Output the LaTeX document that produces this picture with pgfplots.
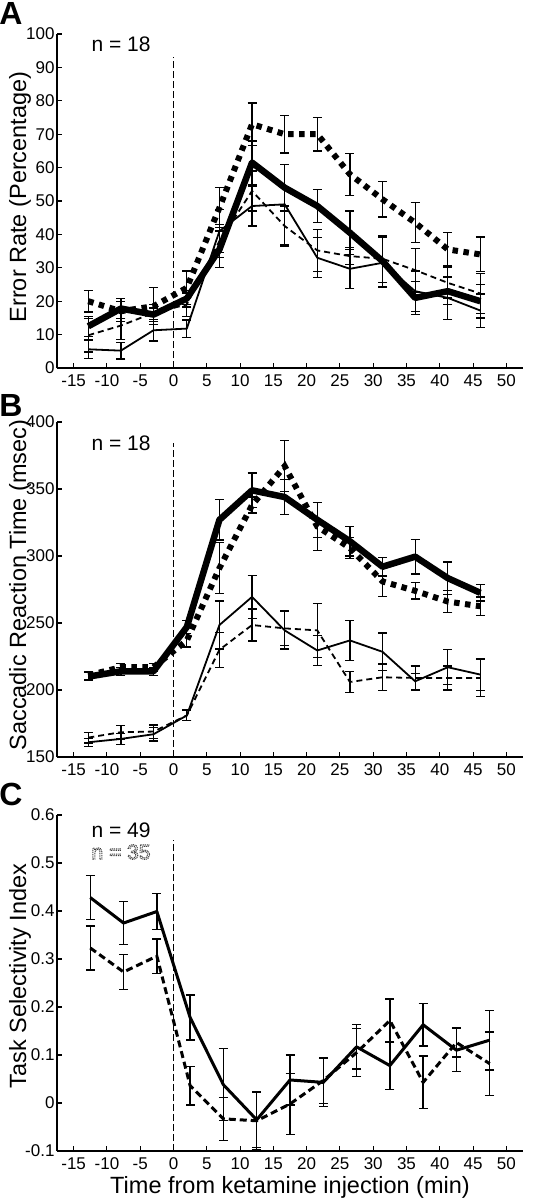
\documentclass[border=0pt]{standalone}
\usepackage{pgfplots}
\pgfplotsset{compat=1.18}
\usepackage{fontspec}
\setmainfont{Liberation Sans}

\pgfplotsset{
  panel/.style={
    scale only axis, width=466pt,
    xmin=-17.5, xmax=52.5,
    axis x line*=bottom, axis y line*=left,
    axis line style={-, line width=1.3pt},
    tick style={line width=1.1pt, black},
    major tick length=5pt, tick align=inside,
    xtick={-15,-10,...,50},
    ticklabel style={font=\fontsize{17}{19}\selectfont},
    /pgf/number format/assume math mode=true,
    yticklabel style={xshift=1pt},
    xticklabel style={yshift=-3pt},
    every axis plot/.append style={black},
    clip=false,
  },
  ebar/.style={error bars/.cd, y dir=both, y explicit,
    error bar style={line width=1.3pt, solid},
    error mark options={rotate=90, mark size=4.5pt, line width=1.3pt, solid}},
  thicksolid/.style={line width=6.5pt, line join=round},
  thickdot/.style={line width=6pt, dash pattern=on 5.5pt off 5.5pt},
  thinsolid/.style={line width=1.8pt},
  thindash/.style={line width=1.8pt, dash pattern=on 6pt off 4pt},
  zeroline/.style={line width=1.2pt, dash pattern=on 7pt off 3pt},
}

\begin{document}
\begin{tikzpicture}
\path[use as bounding box] (0,0) rectangle (542pt,-1200pt);

% ---------------- Panel A ----------------
\begin{axis}[panel, at={(57pt,-368pt)}, anchor=south west, height=334pt,
  ymin=0, ymax=100, ytick={0,10,...,100}]
\addplot[zeroline] coordinates {(0,0) (0,93)};
\addplot[thickdot, ebar] table[x=x, y=y, y error=e] {
x y e
-12.8 20.0 3.2
-7.9 17.0 3.0
-3.0 18.5 5.5
2.0 24.0 5.0
6.9 48.0 6.0
11.8 73.0 6.3
16.7 70.0 5.6
21.6 70.0 5.0
26.5 58.0 6.3
31.4 50.5 5.3
36.3 43.5 6.0
41.2 35.5 5.0
46.1 34.0 5.2
};
\addplot[thicksolid, ebar] table[x=x, y=y, y error=e] {
x y e
-12.8 12.5 3.0
-7.9 17.8 3.0
-3.0 16.0 2.0
2.0 20.8 2.5
6.9 35.5 5.5
11.8 61.5 6.5
16.7 54.0 7.0
21.6 48.5 5.0
26.5 40.5 6.5
31.4 32.0 7.5
36.3 21.0 5.0
41.2 23.0 4.0
46.1 20.0 5.0
};
\addplot[thinsolid, ebar] table[x=x, y=y, y error=e] {
x y e
-12.8 5.6 2.8
-7.9 5.2 2.5
-3.0 11.3 3.2
2.0 11.8 2.6
6.9 41.0 6.5
11.8 48.5 6.0
16.7 49.0 12.0
21.6 33.0 6.0
26.5 29.7 5.8
31.4 31.5 7.5
36.3 23.0 6.0
41.2 21.0 6.5
46.1 17.2 5.0
};
\addplot[thindash, ebar] table[x=x, y=y, y error=e] {
x y e
-12.8 9.8 5.0
-7.9 12.7 4.2
-3.0 16.5 2.5
2.0 19.0 3.5
6.9 38.0 5.0
11.8 53.0 6.0
16.7 42.5 6.0
21.6 35.2 6.3
26.5 33.5 2.5
31.4 32.7 7.0
36.3 29.3 6.5
41.2 25.5 4.5
46.1 22.3 6.0
};
\end{axis}

% ---------------- Panel B ----------------
\begin{axis}[panel, at={(57pt,-757pt)}, anchor=south west, height=335pt,
  ymin=150, ymax=400, ytick={150,200,...,400}]
\addplot[zeroline] coordinates {(0,150) (0,384)};
\addplot[thickdot, ebar] table[x=x, y=y, y error=e] {
x y e
-12.8 211 3
-7.9 217 3
-3.0 217 3
2.0 237 5
6.9 291 19
11.8 338 6
16.7 367 19
21.6 322 18
26.5 306 8
31.4 281 11
36.3 274 6
41.2 266 8
46.1 262.5 7
};
\addplot[thicksolid, ebar] table[x=x, y=y, y error=e] {
x y e
-12.8 210 3
-7.9 214 3
-3.0 214 3
2.0 247 5
6.9 327 15
11.8 349 13
16.7 344 13
21.6 327 13
26.5 311 11
31.4 292 7
36.3 299.5 13
41.2 283.5 12
46.1 272.5 6
};
\addplot[thinsolid, ebar] table[x=x, y=y, y error=e] {
x y e
-12.8 161 3
-7.9 163.5 4
-3.0 167 5
2.0 181 4
6.9 248.5 18
11.8 269.5 16
16.7 244.5 14
21.6 229.5 11
26.5 237 15
31.4 228.5 14
36.3 206.5 6
41.2 217 13
46.1 211.5 12
};
\addplot[thindash, ebar] table[x=x, y=y, y error=e] {
x y e
-12.8 164.5 4
-7.9 168.5 5
-3.0 169 5
2.0 181 4
6.9 230 13
11.8 248.5 12
16.7 246 13
21.6 244.5 20
26.5 206 8
31.4 209.5 10
36.3 209 9
41.2 209 9
46.1 209 14
};
\end{axis}

% ---------------- Panel C ----------------
\begin{axis}[panel, at={(57pt,-1151pt)}, anchor=south west, height=336pt,
  ymin=-0.1, ymax=0.6, ytick={-0.1,0,0.1,0.2,0.3,0.4,0.5,0.6},
  yticklabel style={/pgf/number format/fixed, /pgf/number format/precision=1}]
\addplot[zeroline] coordinates {(0,-0.1) (0,0.548)};
\addplot[line width=3pt, dash pattern=on 7pt off 4pt, ebar] table[x=x, y=y, y error=e] {
x y e
-12.5 0.323 0.046
-7.5 0.273 0.036
-2.5 0.306 0.036
2.5 0.036 0.04
7.5 -0.033 0.045
12.5 -0.037 0.06
17.5 -0.002 0.063
22.5 0.047 0.048
27.5 0.105 0.05
32.5 0.172 0.045
37.5 0.043 0.055
42.5 0.126 0.03
47.5 0.082 0.066
};
\addplot[line width=3pt, line join=round, ebar] table[x=x, y=y, y error=e] {
x y e
-12.5 0.428 0.046
-7.5 0.375 0.045
-2.5 0.399 0.037
2.5 0.178 0.047
7.5 0.038 0.075
12.5 -0.035 0.058
17.5 0.048 0.052
22.5 0.043 0.05
27.5 0.117 0.046
32.5 0.078 0.05
37.5 0.163 0.044
42.5 0.11 0.045
47.5 0.131 0.062
};
\end{axis}

% ---------------- Texts ----------------
\node[font=\fontsize{32}{34}\selectfont\bfseries] at (11pt,-13pt) {A};
\node[font=\fontsize{32}{34}\selectfont\bfseries] at (11pt,-405pt) {B};
\node[font=\fontsize{32}{34}\selectfont\bfseries] at (11pt,-794pt) {C};

\node[rotate=90, font=\fontsize{23.5}{26}\selectfont] at (20pt,-197pt) {Error Rate (Percentage)};
\node[rotate=90, font=\fontsize{23.5}{26}\selectfont] at (20pt,-585pt) {Saccadic Reaction Time (msec)};
\node[rotate=90, font=\fontsize{23.5}{26}\selectfont] at (20pt,-976pt) {Task Selectivity Index};
\node[font=\fontsize{23.5}{26}\selectfont] at (290pt,-1187pt) {Time from ketamine injection (min)};

\node[anchor=west, font=\fontsize{21}{23}\selectfont] at (88pt,-44pt) {n = 18};
\node[anchor=west, font=\fontsize{21}{23}\selectfont] at (88pt,-443pt) {n = 18};
\node[anchor=west, font=\fontsize{21}{23}\selectfont] at (88pt,-830pt) {n = 49};
\node[anchor=west, font=\fontsize{21}{23}\selectfont, text=black!75] at (88pt,-852pt)
  {\special{pdf:literal direct 1 Tr 1 w [1 0.8] 0 d}n = 35\special{pdf:literal direct 0 Tr [] 0 d}};
\end{tikzpicture}
\end{document}
